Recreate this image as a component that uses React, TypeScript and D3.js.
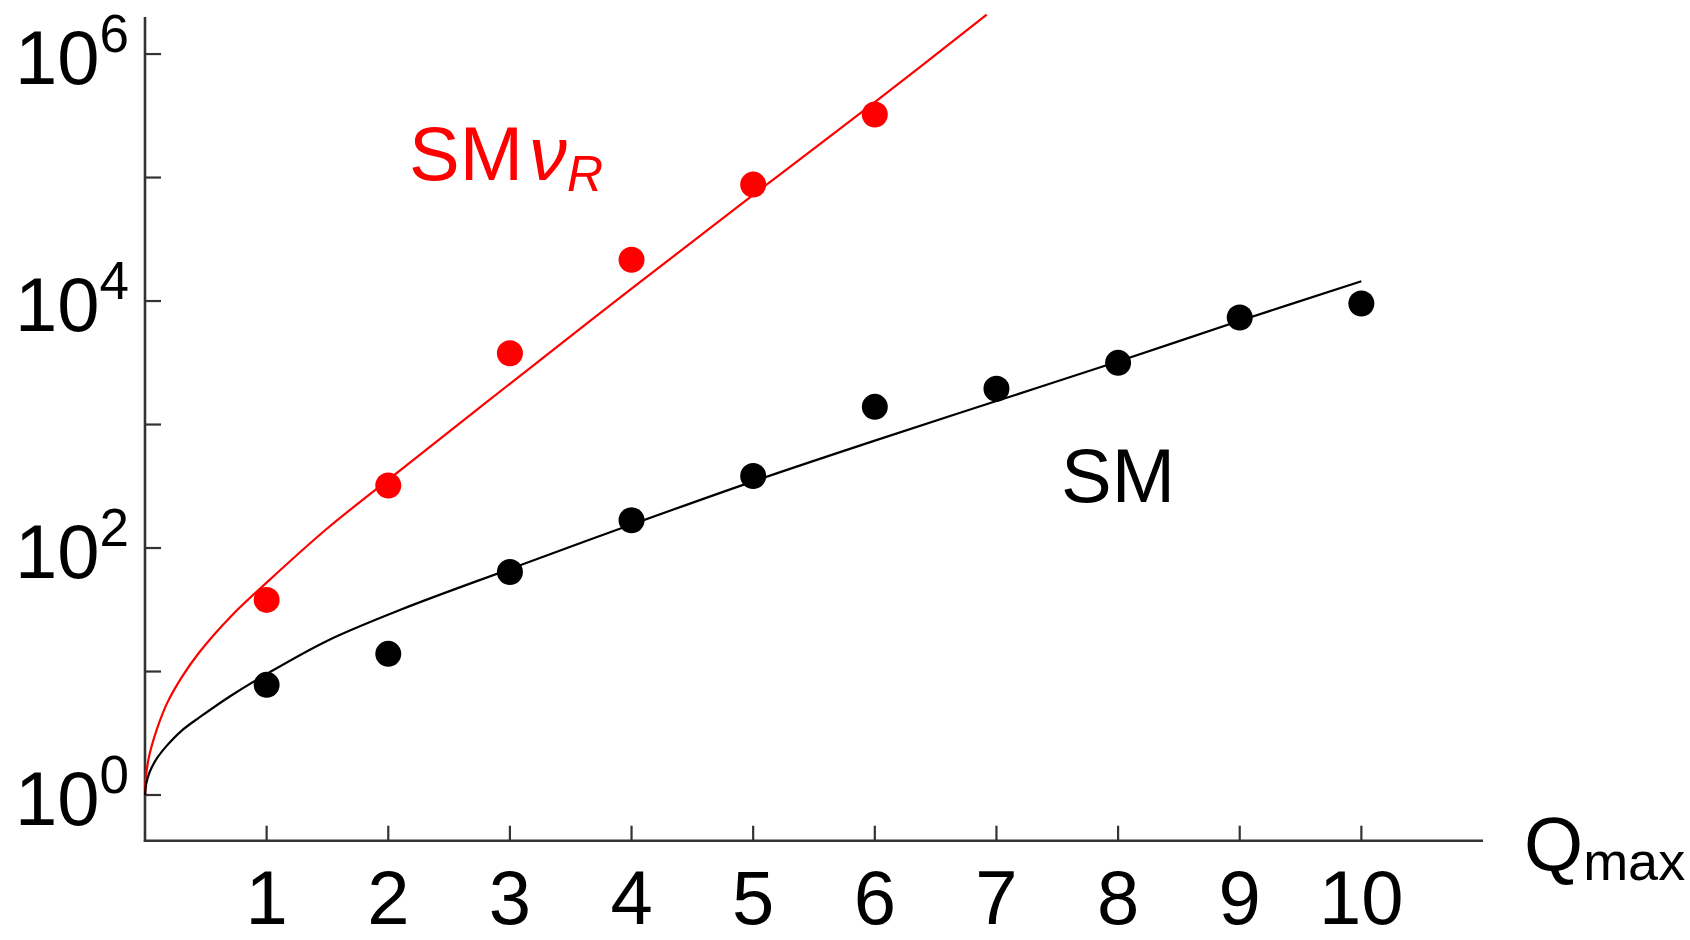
import React from "react";
import * as d3 from "d3";

// ---- data ----
const qValues = [1, 2, 3, 4, 5, 6, 7, 8, 9, 10];
const smPoints = [7.8, 13.9, 64, 168, 383, 1390, 1950, 3160, 7360, 9550];
const smvrQ = [1, 2, 3, 4, 5, 6];
const smvrPoints = [38, 321, 3780, 21600, 87700, 324000];

const smFitQ = [0, 0.01, 0.04, 0.1, 0.18, 0.3, 0.45, 0.7, 1.0, 1.5, 2.1, 3, 4, 5, 6, 7, 8, 9, 10];
const smFitV = [1, 1.23, 1.549, 1.995, 2.512, 3.311, 4.266, 6.31, 9.55, 17.78, 31.62, 67.61, 154.9, 346.7, 741.3, 1549, 3236, 6918, 14454];

const smvrFitQ = [0, 0.01, 0.04, 0.1, 0.18, 0.3, 0.45, 0.7, 1.0, 1.5, 2.1, 3, 4, 5, 6, 6.92];
const smvrFitV = [1, 1.479, 2.188, 3.467, 5.495, 8.913, 14.45, 27.54, 52.48, 144.5, 426.6, 2138, 12589, 72444, 407380, 2089296];

const xTicks = [1, 2, 3, 4, 5, 6, 7, 8, 9, 10];
const yMajorExp = [0, 2, 4, 6];
const yMinorExp = [1, 3, 5];

const FONT = "'Liberation Sans', Arial, Helvetica, sans-serif";
const RED = "#ff0000";
const AXIS = "#333333";

export default function App() {
  const x = d3.scaleLinear().domain([0, 11]).range([145, 1483]);
  const y = d3.scaleLog().domain([Math.pow(10, -0.37), Math.pow(10, 6.3)]).range([840.7, 17]);

  const line = d3
    .line<[number, number]>()
    .x((d) => x(d[0]))
    .y((d) => y(d[1]))
    .curve(d3.curveCatmullRom.alpha(0.5));

  const smPath = line(smFitQ.map((q, i) => [q, smFitV[i]] as [number, number])) || "";
  const smvrPath = line(smvrFitQ.map((q, i) => [q, smvrFitV[i]] as [number, number])) || "";

  const x0 = x(0);
  const yBase = y.range()[0];

  return (
    <svg
      width={1690}
      height={940}
      style={{ position: "absolute", left: 0, top: 0, background: "#fff" }}
      fontFamily={FONT}
    >
      <rect x={0} y={0} width={1690} height={940} fill="#fff" />
      {/* axes */}
      <line x1={x0} y1={17} x2={x0} y2={yBase + 1.2} stroke={AXIS} strokeWidth={2.6} />
      <line x1={x0 - 1.2} y1={yBase} x2={x(11)} y2={yBase} stroke={AXIS} strokeWidth={2.6} />
      {yMajorExp.concat(yMinorExp).map((e) => (
        <line
          key={"yt" + e}
          x1={x0}
          x2={x0 + 16}
          y1={y(Math.pow(10, e))}
          y2={y(Math.pow(10, e))}
          stroke={AXIS}
          strokeWidth={2.2}
        />
      ))}
      {xTicks.map((t) => (
        <line key={"xt" + t} x1={x(t)} x2={x(t)} y1={yBase} y2={yBase - 15} stroke={AXIS} strokeWidth={2.2} />
      ))}
      {/* y tick labels */}
      {yMajorExp.map((e) => (
        <text key={"yl" + e} x={129} y={y(Math.pow(10, e)) + 29.5} textAnchor="end" fontSize={76} fill="#000">
          10
          <tspan dy={-32} fontSize={53}>
            {e}
          </tspan>
        </text>
      ))}
      {/* x tick labels */}
      {xTicks.map((t) => (
        <text key={"xl" + t} x={x(t)} y={923.5} textAnchor="middle" fontSize={76} fill="#000">
          {t}
        </text>
      ))}
      {/* x axis title */}
      <text x={1524} y={870} fontSize={76} fill="#000">
        Q
        <tspan dy={10} fontSize={54}>
          max
        </tspan>
      </text>

      {/* fit curves */}
      <path d={smvrPath} fill="none" stroke={RED} strokeWidth={2.2} />
      <path d={smPath} fill="none" stroke="#000" strokeWidth={2.2} />

      {/* points */}
      {smvrPoints.map((v, i) => (
        <circle key={"r" + i} cx={x(smvrQ[i])} cy={y(v)} r={13} fill={RED} />
      ))}
      {smPoints.map((v, i) => (
        <circle key={"b" + i} cx={x(qValues[i])} cy={y(v)} r={13} fill="#000" />
      ))}

      {/* series labels */}
      <text x={409} y={180} fontSize={76} fill={RED}>
        SM
        <tspan dx={6} fontStyle="italic">
          ν
        </tspan>
        <tspan dy={11} fontSize={50} fontStyle="italic">
          R
        </tspan>
      </text>
      <text x={1061} y={502} fontSize={76} fill="#000">
        SM
      </text>
    </svg>
  );
}
